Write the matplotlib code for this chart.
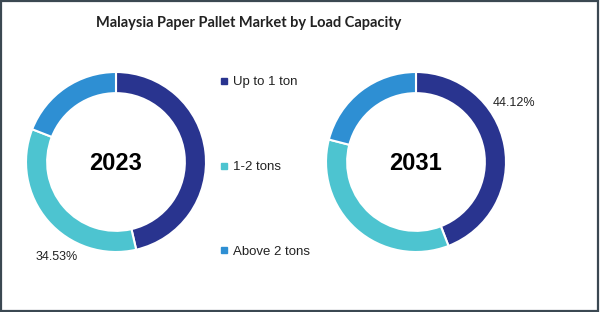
import matplotlib.pyplot as plt
from matplotlib.lines import Line2D
from matplotlib.patches import Rectangle

categories = ["Up to 1 ton", "1-2 tons", "Above 2 tons"]
share_2023 = [46.40, 34.53, 19.07]
share_2031 = [44.12, 34.90, 20.98]
years = ["2023", "2031"]
colors = ["#29348F", "#4DC4D0", "#2E8FD3"]

W, H = 600, 312
fig = plt.figure(figsize=(6, 3.12), dpi=100)

# frame around the whole picture
fig.patches.append(Rectangle((0.002, 0.003), 0.995, 0.993, transform=fig.transFigure,
                             fill=False, edgecolor="#3b4852", linewidth=1.6))

fig.text(249 / W, 1 - 23 / H, "Malaysia Paper Pallet Market by Load Capacity",
         ha="center", va="center", fontsize=10.5, fontweight="bold",
         family="Lato", color="#222222")


def donut(cx, cy, values, year, label_idx, label_xy):
    r = 90
    ax = fig.add_axes([(cx - r) / W, (H - cy - r) / H, 2 * r / W, 2 * r / H])
    ax.pie(values, colors=colors, startangle=90, counterclock=False, radius=1,
           wedgeprops=dict(width=0.235, edgecolor="white", linewidth=1.5))
    ax.set_xlim(-1, 1)
    ax.set_ylim(-1, 1)
    ax.set_aspect("equal")
    ax.text(0, -0.02, year, ha="center", va="center", fontsize=17,
            fontweight="bold", family="Liberation Sans", color="black")
    ax.text(label_xy[0], label_xy[1], f"{values[label_idx]:.2f}%", ha="center",
            va="center", fontsize=9, family="Liberation Sans", color="#222222",
            clip_on=False)
    return ax


donut(116, 162, share_2023, years[0], 1, (-0.66, -1.06))
donut(416, 162, share_2031, years[1], 0, (1.09, 0.66))

handles = [Line2D([], [], marker="s", linestyle="none", markersize=4,
                  markerfacecolor=c, markeredgecolor=c) for c in colors]
fig.legend(handles, categories, loc="center left", bbox_to_anchor=(214 / W, 1 - 167 / H),
           frameon=False, prop={"family": "Liberation Sans", "size": 9.5},
           handlelength=0.5, handletextpad=0.45, labelspacing=5.5, borderpad=0,
           labelcolor="#222222")

fig.savefig("out.png", dpi=100)
